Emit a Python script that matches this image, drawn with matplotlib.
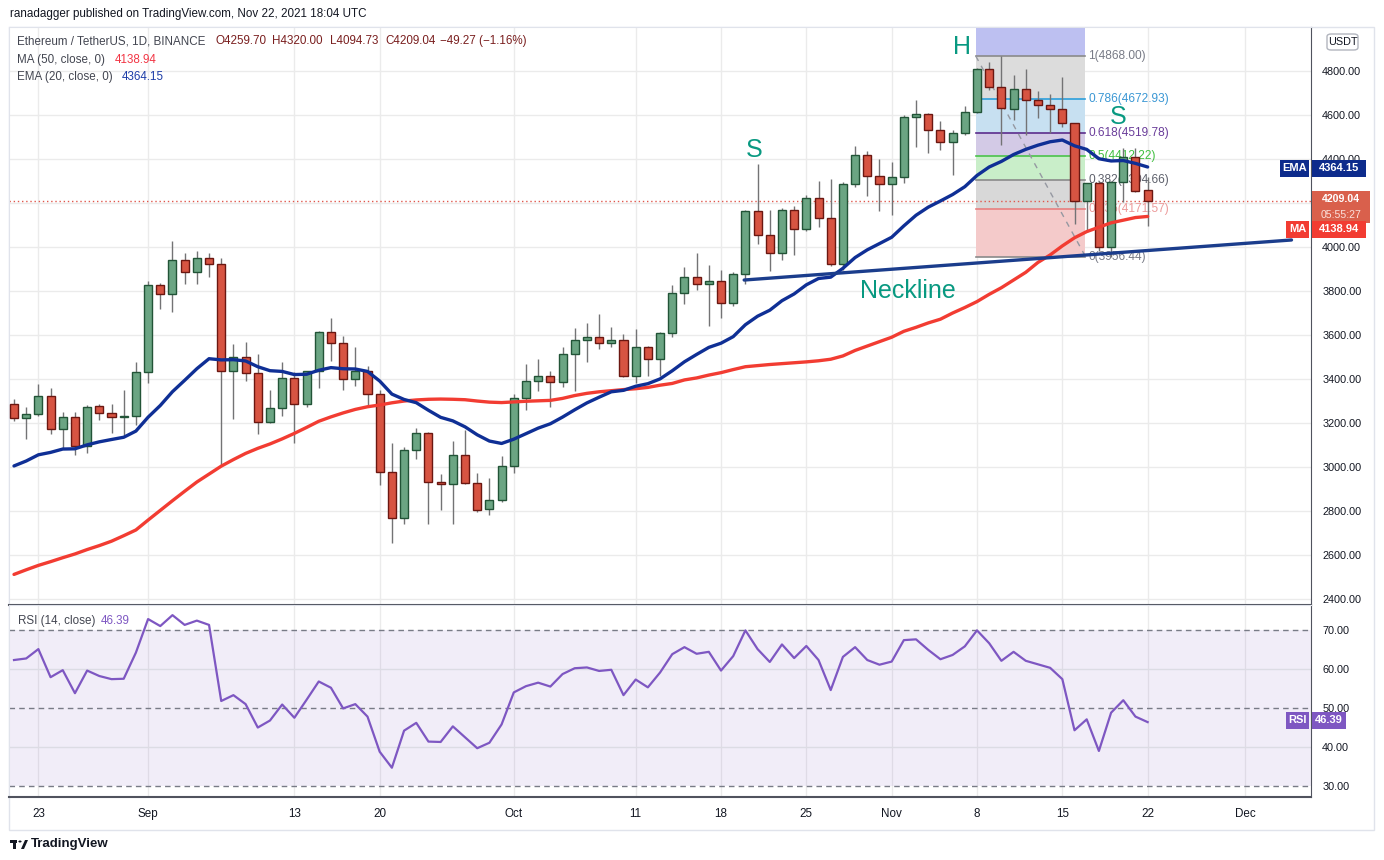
import matplotlib.pyplot as plt
from matplotlib.patches import Rectangle, FancyBboxPatch, Circle, Polygon
import numpy as np

plt.rcParams['font.family'] = ['Liberation Sans', 'DejaVu Sans']

# --- daily candles, Aug 21 .. Nov 22 2021 (index 0 = Aug 21) ---
opens = [3286, 3221, 3241, 3323, 3171, 3226, 3094, 3276, 3244, 3226, 3232,
         3430, 3826, 3785, 3939, 3885, 3948, 3925, 3435, 3498, 3426, 3207,
         3267, 3403, 3285, 3435, 3612, 3566, 3398, 3435, 3330, 2976, 2767,
         3076, 3153, 2930, 2921, 3057, 2926, 2808, 2848, 3003, 3312, 3389,
         3416, 3385, 3516, 3576, 3589, 3562, 3576, 3412, 3544, 3489, 3607,
         3789, 3866, 3830, 3847, 3744, 3876, 4162, 4053, 3971, 4167, 4080,
         4221, 4130, 3921, 4285, 4417, 4321, 4285, 4317, 4589, 4603, 4530,
         4476, 4517, 4612, 4811, 4729, 4626, 4717, 4667, 4644, 4626, 4562,
         4209, 4289, 3999, 4295, 4411, 4259.70]
highs = [3309, 3274, 3377, 3359, 3250, 3250, 3282, 3286, 3286, 3350, 3477,
         3845, 3838, 4027, 3972, 3982, 3972, 3950, 3559, 3568, 3513, 3350,
         3477, 3430, 3437, 3618, 3678, 3595, 3545, 3459, 3350, 3109, 3091,
         3177, 3159, 2968, 3118, 3168, 2973, 2950, 3050, 3332, 3468, 3491,
         3436, 3547, 3632, 3654, 3695, 3636, 3603, 3627, 3549, 3613, 3826,
         3909, 3972, 3918, 3894, 3885, 4167, 4377, 4167, 4176, 4185, 4235,
         4300, 4309, 4294, 4459, 4436, 4400, 4386, 4600, 4667, 4607, 4571,
         4530, 4641, 4815, 4842, 4868, 4782, 4808, 4709, 4694, 4774, 4565,
         4293, 4300, 4300, 4448, 4448, 4320.00]
lows = [3210, 3127, 3233, 3151, 3083, 3057, 3065, 3213, 3156, 3147, 3192,
        3383, 3719, 3706, 3833, 3833, 3865, 3006, 3220, 3392, 3151, 3201,
        3233, 3111, 3274, 3360, 3483, 3351, 3370, 3282, 2917, 2656, 2742,
        3038, 2739, 2806, 2742, 2922, 2794, 2782, 2842, 2974, 3259, 3347,
        3274, 3365, 3347, 3476, 3535, 3544, 3407, 3380, 3412, 3413, 3589,
        3739, 3804, 3642, 3679, 3733, 3830, 4015, 3892, 3942, 3965, 4071,
        4092, 3914, 3894, 4271, 4233, 4165, 4147, 4289, 4456, 4426, 4442,
        4329, 4508, 4607, 4714, 4465, 4579, 4511, 4588, 4517, 4544, 4105,
        4068, 3980, 3956, 4206, 4251, 4094.73]
closes = [3221, 3241, 3323, 3171, 3226, 3094, 3271, 3245, 3226, 3232, 3430,
          3826, 3785, 3939, 3885, 3948, 3925, 3435, 3498, 3426, 3207, 3267,
          3403, 3285, 3435, 3612, 3566, 3398, 3435, 3330, 2976, 2767, 3076,
          3153, 2930, 2921, 3057, 2926, 2803, 2848, 3003, 3312, 3389, 3416,
          3385, 3516, 3576, 3589, 3562, 3576, 3412, 3544, 3489, 3607, 3789,
          3866, 3830, 3847, 3744, 3876, 4162, 4053, 3971, 4167, 4080, 4221,
          4130, 3921, 4285, 4417, 4321, 4285, 4317, 4589, 4603, 4530, 4476,
          4517, 4612, 4811, 4729, 4630, 4717, 4667, 4644, 4626, 4562, 4209,
          4289, 3999, 4295, 4411, 4256, 4209.04]

# MA(50)
ma50 = [2512, 2533, 2553, 2570, 2588, 2605, 2625, 2643, 2663, 2688, 2714,
        2759, 2803, 2847, 2890, 2932, 2968, 3004, 3034, 3062, 3085, 3105,
        3128, 3153, 3180, 3208, 3228, 3246, 3262, 3274, 3282, 3292, 3300,
        3305, 3308, 3309, 3308, 3306, 3300, 3295, 3293, 3296, 3299, 3301,
        3303, 3312, 3325, 3335, 3342, 3347, 3352, 3356, 3362, 3372, 3380,
        3396, 3405, 3418, 3429, 3443, 3456, 3461, 3466, 3470, 3474, 3478,
        3483, 3490, 3505, 3530, 3550, 3570, 3590, 3617, 3635, 3655, 3672,
        3700, 3725, 3752, 3785, 3815, 3850, 3885, 3930, 3964, 4005, 4042,
        4070, 4090, 4110, 4122, 4134, 4139]
ema_start = 3005  # EMA(20) on Aug 21 as drawn

# RSI(14)
rsi = [62.3, 62.7, 65.1, 57.9, 59.7, 53.8, 59.6, 58.2, 57.4, 57.5, 64.2,
       72.8, 71.0, 73.8, 71.3, 72.4, 71.3, 51.8, 53.3, 51.0, 45.0, 46.8,
       50.9, 47.5, 52.1, 56.8, 55.2, 49.9, 51.0, 47.8, 38.8, 34.7, 44.2,
       46.2, 41.4, 41.3, 45.3, 42.5, 39.7, 41.1, 45.8, 54.0, 55.6, 56.5,
       55.5, 58.7, 60.2, 60.4, 59.5, 59.8, 53.3, 57.3, 55.3, 59.1, 63.8,
       65.6, 63.9, 64.4, 59.6, 63.3, 69.9, 65.1, 61.8, 66.3, 62.8, 65.9,
       62.3, 54.6, 63.1, 65.6, 62.3, 61.1, 61.9, 67.4, 67.6, 64.9, 62.5,
       63.6, 65.8, 69.9, 66.6, 62.1, 64.4, 62.1, 61.2, 60.3, 57.4, 44.3,
       47.1, 39.0, 48.8, 52.0, 47.8, 46.39]

# date axis
tick_days = [2, 11, 23, 30, 41, 51, 58, 65, 72, 79, 86, 93, 101]
tick_labels = ['23', 'Sep', '13', '20', 'Oct', '11', '18', '25', 'Nov', '8', '15', '22', 'Dec']

# price scale (4200 sits under the last-price tag)
price_ticks = list(range(2400, 4900, 200))
price_labels = ['' if p == 4200 else f'{p}.00' for p in price_ticks]

# fibonacci retracement
fib_ratios = [1, 0.786, 0.618, 0.5, 0.382, 0.236, 0]
fib_prices = [4868.00, 4672.93, 4519.78, 4412.22, 4304.66, 4171.57, 3956.44]
fib_start, fib_end = 78.9, 87.9

# neckline end points (day, price)
neck_days = [59.9, 104.8]
neck_prices = [3850, 4032]

W, H = 1384, 860
fig = plt.figure(figsize=(W / 100, H / 100), dpi=100)
fig.patch.set_facecolor('white')


def fx(px):
    return px / W


def fy(py):
    return 1 - py / H


ax = fig.add_axes([fx(9), fy(605), fx(1311) - fx(9), (605 - 27) / H])
ax_rsi = fig.add_axes([fx(9), fy(797), fx(1311) - fx(9), (797 - 605) / H], sharex=ax)

n = len(closes)
days = np.arange(n)
grid_col = '#ebebeb'
text_col = '#131722'
teal = '#089981'

# --- grids ---
for a in (ax, ax_rsi):
    for d in tick_days:
        a.axvline(d, color=grid_col, lw=1, zorder=0)
for p in range(2400, 5000, 200):
    ax.axhline(p, color=grid_col, lw=1, zorder=0)

# --- fibonacci boxes ---
zone_cols = ['#bdc0f1', '#dcdcdc', '#c7e0f1', '#d3cae6', '#c9eec9', '#d8d8d8', '#f4caca']
line_cols = ['#8a8a8a', '#2d9fdb', '#5b2c8c', '#4cc24c', '#8a8a8a', '#e88080', '#8a8a8a']
label_cols = ['#787b86', '#3a97d4', '#6a3d9a', '#3fbf3f', '#5d606b', '#ec9a9a', '#787b86']
tops = [5000] + fib_prices[:-1]
for k in range(len(fib_prices)):
    ax.fill_between([fib_start, fib_end], fib_prices[k], tops[k],
                    color=zone_cols[k], lw=0, zorder=1)
    ax.plot([fib_start, fib_end], [fib_prices[k]] * 2, color=line_cols[k], lw=1.2, zorder=1.5)
    ax.text(fib_end + 0.25, fib_prices[k], f'{fib_ratios[k]}({fib_prices[k]:.2f})',
            color=label_cols[k], fontsize=8.6, va='center', ha='left', zorder=1.5)
ax.plot([fib_start, fib_end], [fib_prices[0], fib_prices[-1]], color='#9598a1',
        lw=1, ls=(0, (4, 4)), zorder=1.6)

# last price dotted line
ax.axhline(closes[-1], color='#e0574c', lw=1, ls=(0, (1, 2)), zorder=1.7)

# --- candles ---
up_fill, up_edge = '#6ba583', '#225437'
dn_fill, dn_edge = '#d75442', '#6b1711'
ax.vlines(days, lows, highs, color='#737375', lw=1, zorder=2)
for i in range(n):
    o, c = opens[i], closes[i]
    up = c >= o
    ax.bar(i, max(abs(c - o), 5), bottom=min(o, c), width=0.66,
           color=up_fill if up else dn_fill, edgecolor=up_edge if up else dn_edge,
           linewidth=1, zorder=3)

# --- moving averages ---
ema = [ema_start]
for c in closes[1:]:
    ema.append(ema[-1] + (c - ema[-1]) * 2 / 21)
ax.plot(days, ma50, color='#f23c32', lw=2.4, zorder=4, solid_capstyle='round')
ax.plot(days, ema, color='#0f2f95', lw=2.4, zorder=4.1, solid_capstyle='round')

# neckline + annotations
ax.plot(neck_days, neck_prices, color='#1b3d8c', lw=2.4, zorder=4.2, solid_capstyle='round')
ax.text(60.7, 4441, 'S', color=teal, fontsize=18, ha='center', va='center', zorder=6)
ax.text(77.8, 4909, 'H', color=teal, fontsize=18, ha='center', va='center', zorder=6)
ax.text(90.6, 4591, 'S', color=teal, fontsize=18, ha='center', va='center', zorder=6)
ax.text(73.3, 3800, 'Neckline', color=teal, fontsize=18, ha='center', va='center', zorder=6)

ax.set_xlim(-0.41, 106.4)
ax.set_ylim(2373, 5000)
ax.set_yticks(price_ticks)
ax.set_yticklabels(price_labels)
ax.yaxis.tick_right()
ax.tick_params(axis='y', length=0, pad=8, labelsize=7.8, labelcolor=text_col)
ax.tick_params(axis='x', length=0, labelbottom=False)

# --- RSI panel ---
ax_rsi.axhspan(30, 70, color='#7e57c2', alpha=0.1, lw=0, zorder=0)
for lvl in (60, 40):
    ax_rsi.axhline(lvl, color='#dcdce4', lw=1, zorder=0.5)
for lvl in (70, 50, 30):
    ax_rsi.axhline(lvl, color='#787b86', lw=1, ls=(0, (4, 3)), zorder=0.6)
ax_rsi.plot(days, rsi, color='#7e57c2', lw=1.6, zorder=3)
ax_rsi.set_ylim(27.2, 76.4)
ax_rsi.set_yticks([30, 40, 50, 60, 70])
ax_rsi.set_yticklabels(['30.00', '40.00', '50.00', '60.00', '70.00'])
ax_rsi.yaxis.tick_right()
ax_rsi.tick_params(axis='y', length=0, pad=8, labelsize=7.8, labelcolor=text_col)
ax_rsi.set_xticks(tick_days)
ax_rsi.set_xticklabels(tick_labels, va='center')
ax_rsi.tick_params(axis='x', length=0, pad=12, labelsize=8.4, labelcolor=text_col)

for a in (ax, ax_rsi):
    for s in ('left', 'top'):
        a.spines[s].set_color('#e0e3eb')
    a.spines['right'].set_color('#50535e')
    a.spines['bottom'].set_color('#50535e')
    a.spines['bottom'].set_linewidth(1.5)

# --- header texts ---
fs = 8.4
fig.text(fx(10), fy(14), 'ranadagger published on TradingView.com, Nov 22, 2021 18:04 UTC',
         fontsize=fs, color=text_col, va='center')
fig.text(fx(17), fy(41), 'Ethereum / TetherUS, 1D, BINANCE', fontsize=fs, color='#434651', va='center')
ohlc_col = '#7a1f1f'
for xp, s in [(215, 'O4259.70'), (272, 'H4320.00'), (330, 'L4094.73'),
              (385, 'C4209.04'), (440, '\u221249.27 (\u22121.16%)')]:
    fig.text(fx(xp), fy(41), s, fontsize=fs, color=ohlc_col, va='center')
fig.text(fx(17), fy(60), 'MA (50, close, 0)', fontsize=fs, color='#434651', va='center')
fig.text(fx(115), fy(60), '4138.94', fontsize=fs, color='#f23645', va='center')
fig.text(fx(17), fy(77), 'EMA (20, close, 0)', fontsize=fs, color='#434651', va='center')
fig.text(fx(122), fy(77), '4364.15', fontsize=fs, color='#1e3ea8', va='center')
fig.text(fx(18), fy(621), 'RSI (14, close)', fontsize=fs, color='#434651', va='center')
fig.text(fx(101), fy(621), '46.39', fontsize=fs, color='#7e57c2', va='center')


# --- price scale tags ---
def box(x0, x1, yc, h, fc):
    fig.patches.append(Rectangle((fx(x0), fy(yc + h / 2)), fx(x1) - fx(x0), h / H,
                                 transform=fig.transFigure, fc=fc, ec='none', zorder=5))


def tag(x0, x1, yc, fc, label):
    box(x0, x1, yc, 17, fc)
    fig.text(fx((x0 + x1) / 2), fy(yc), label, fontsize=8, color='white',
             ha='center', va='center', zorder=6, fontweight='bold')


tag(1280, 1309, 168, '#0d2b8c', 'EMA')
tag(1312, 1366, 168, '#0d2b8c', '4364.15')
box(1312, 1370, 207, 32, '#d9604c')
fig.text(fx(1341), fy(198.5), '4209.04', fontsize=7.6, color='white', ha='center', va='center',
         zorder=6, fontweight='bold')
fig.text(fx(1341), fy(215.5), '05:55:27', fontsize=7.6, color='#fbe0dc', ha='center', va='center',
         zorder=6)
tag(1286, 1309, 229, '#f23c32', 'MA')
tag(1312, 1366, 229, '#f23c32', '4138.94')
tag(1286, 1309, 720, '#7e57c2', 'RSI')
tag(1312, 1346, 720, '#7e57c2', '46.39')

fig.patches.append(FancyBboxPatch((fx(1327), fy(50)), fx(31), 16 / H, transform=fig.transFigure,
                                  boxstyle='round,pad=0,rounding_size=0.003', fc='white',
                                  ec='#b2b5be', lw=1, zorder=5))
fig.text(fx(1342.5), fy(42), 'USDT', fontsize=7.8, color=text_col, ha='center', va='center', zorder=6)

# outer frame
fig.patches.append(Rectangle((fx(9), fy(830)), fx(1374) - fx(9), (830 - 27) / H,
                             transform=fig.transFigure, fill=False, ec='#e0e3eb', lw=1, zorder=-1))

# --- TradingView logo ---
fig.patches.append(Rectangle((fx(10), fy(843)), fx(7), 3 / H, transform=fig.transFigure,
                             fc=text_col, ec='none'))
fig.patches.append(Rectangle((fx(13), fy(849)), fx(3), 9 / H, transform=fig.transFigure,
                             fc=text_col, ec='none'))
fig.patches.append(Circle((fx(20), fy(841.5)), 1.6 / W, transform=fig.transFigure,
                          fc=text_col, ec='none'))
fig.patches.append(Polygon([(fx(21), fy(849)), (fx(25), fy(840)), (fx(28), fy(840)), (fx(24), fy(849))],
                           closed=True, transform=fig.transFigure, fc=text_col, ec='none'))
fig.text(fx(31), fy(843.5), 'TradingView', fontsize=9.5, color=text_col, va='center',
         fontweight='bold')

fig.savefig('out.png', dpi=100)
